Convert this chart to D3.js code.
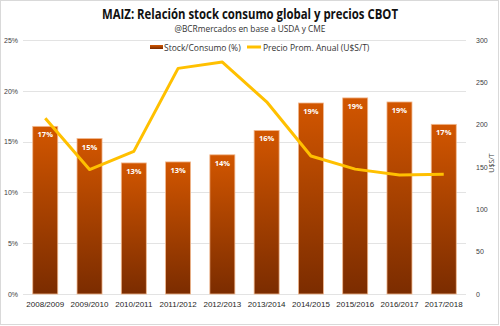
<!DOCTYPE html>
<html>
  <head>
    <meta charset="utf-8">
    <title>MAIZ stock consumo</title>
    <script src="https://d3js.org/d3.v7.min.js"></script>
    <style>
      body { margin: 0; background: #fff; }
      svg { font-family: "Open Sans", "Liberation Sans", sans-serif; }
      .axis text { font-size: 7px; fill: #404040; }
      .xlab text { font-size: 8px; fill: #262626; }
    </style>
  </head>
  <body>
    <svg id="chart" width="500" height="326"></svg>
    <script>
      // data
      var campaigns = ["2008/2009", "2009/2010", "2010/2011", "2011/2012", "2012/2013",
                       "2013/2014", "2014/2015", "2015/2016", "2016/2017", "2017/2018"];
      var stockRatio = [16.5, 15.3, 12.9, 13.0, 13.7, 16.1, 18.8, 19.3, 18.9, 16.7];
      var priceAvg = [207.5, 147, 168.5, 266.5, 274, 227, 163, 147.5, 140.5, 141.5];
      var leftTicks = [0, 5, 10, 15, 20, 25];
      var rightTicks = [0, 50, 100, 150, 200, 250, 300];

      var svg = d3.select("#chart");
      var margin = { top: 40, right: 34, bottom: 32, left: 23 };
      var width = 500, height = 326;

      svg.append("rect")
        .attr("x", 0.5).attr("y", 0.5)
        .attr("width", 498).attr("height", 324)
        .attr("fill", "#fff").attr("stroke", "#d9d9d9");

      var x = d3.scaleBand()
        .domain(campaigns)
        .range([margin.left, width - margin.right])
        .paddingInner(0.435)
        .paddingOuter(0.22);
      var y = d3.scaleLinear().domain([0, 25]).range([height - margin.bottom, margin.top]);
      var y2 = d3.scaleLinear().domain([0, 300]).range([height - margin.bottom, margin.top]);

      var defs = svg.append("defs");
      var grad = defs.append("linearGradient")
        .attr("id", "barGrad")
        .attr("x1", 0).attr("y1", 0).attr("x2", 0).attr("y2", 1);
      grad.append("stop").attr("offset", "0%").attr("stop-color", "#d25600");
      grad.append("stop").attr("offset", "100%").attr("stop-color", "#7b2c00");

      // grid
      svg.append("g")
        .selectAll("line")
        .data(leftTicks)
        .enter().append("line")
          .attr("x1", margin.left)
          .attr("x2", width - margin.right)
          .attr("y1", function(d) { return Math.round(y(d)) + 0.5; })
          .attr("y2", function(d) { return Math.round(y(d)) + 0.5; })
          .attr("stroke", "#e3e3e3");

      // axes
      var yAxis = d3.axisLeft(y)
        .tickValues(leftTicks)
        .tickSize(0)
        .tickPadding(5)
        .tickFormat(function(d) { return d + "%"; });
      svg.append("g")
        .classed("axis", true)
        .attr("transform", "translate(" + margin.left + ",0)")
        .call(yAxis)
        .call(function(g) { g.select(".domain").remove(); });

      var y2Axis = d3.axisRight(y2)
        .tickValues(rightTicks)
        .tickSize(0)
        .tickPadding(10);
      svg.append("g")
        .classed("axis", true)
        .attr("transform", "translate(" + (width - margin.right) + ",0)")
        .call(y2Axis)
        .call(function(g) { g.select(".domain").remove(); });

      var xAxis = d3.axisBottom(x).tickSize(0).tickPadding(7);
      svg.append("g")
        .classed("xlab", true)
        .attr("transform", "translate(0," + (height - margin.bottom) + ")")
        .call(xAxis)
        .call(function(g) { g.select(".domain").remove(); });

      svg.append("text")
        .attr("transform", "translate(494,163) rotate(-90)")
        .attr("text-anchor", "middle")
        .attr("font-size", 7)
        .attr("fill", "#404040")
        .text("U$S/T");

      // bars
      svg.append("g")
        .selectAll("rect")
        .data(campaigns)
        .enter().append("rect")
          .attr("x", function(d) { return x(d); })
          .attr("y", function(d, i) { return y(stockRatio[i]); })
          .attr("width", x.bandwidth())
          .attr("height", function(d, i) { return y(0) - y(stockRatio[i]); })
          .attr("fill", "url(#barGrad)")
          .attr("stroke", "#f2b98f")
          .attr("stroke-width", 0.8);

      svg.append("g")
        .selectAll("text")
        .data(campaigns)
        .enter().append("text")
          .attr("x", function(d) { return x(d) + x.bandwidth() / 2; })
          .attr("y", function(d, i) { return y(stockRatio[i]) + 11; })
          .attr("text-anchor", "middle")
          .attr("font-size", 7.5)
          .attr("font-weight", "bold")
          .attr("fill", "#fff")
          .text(function(d, i) { return Math.round(stockRatio[i]) + "%"; });

      // price line
      var line = d3.line()
        .x(function(d, i) { return x(campaigns[i]) + x.bandwidth() / 2; })
        .y(function(d) { return y2(d); });
      svg.append("path")
        .datum(priceAvg)
        .attr("d", line)
        .attr("fill", "none")
        .attr("stroke", "#ffc000")
        .attr("stroke-width", 3)
        .attr("stroke-linejoin", "round");

      // titles
      svg.append("text")
        .attr("x", 250).attr("y", 19)
        .attr("text-anchor", "middle")
        .attr("font-size", 14.5)
        .attr("font-weight", "bold")
        .attr("fill", "#111")
        .attr("textLength", 296)
        .attr("lengthAdjust", "spacingAndGlyphs")
        .text("MAIZ: Relación stock consumo global y precios CBOT");
      svg.append("text")
        .attr("x", 250).attr("y", 32)
        .attr("text-anchor", "middle")
        .attr("font-size", 8.5)
        .attr("fill", "#333")
        .attr("textLength", 151)
        .attr("lengthAdjust", "spacingAndGlyphs")
        .text("@BCRmercados en base a USDA y CME");

      // legend
      var legend = svg.append("g").attr("font-size", 8.5).attr("fill", "#333");
      legend.append("rect")
        .attr("x", 150).attr("y", 45)
        .attr("width", 13).attr("height", 4)
        .attr("fill", "url(#barGrad)");
      legend.append("text").attr("x", 164).attr("y", 50.5).text("Stock/Consumo (%)");
      legend.append("line")
        .attr("x1", 247).attr("x2", 261)
        .attr("y1", 47).attr("y2", 47)
        .attr("stroke", "#ffc000").attr("stroke-width", 3);
      legend.append("text").attr("x", 263).attr("y", 50.5).text("Precio Prom. Anual (U$S/T)");
    </script>
  </body>
</html>
